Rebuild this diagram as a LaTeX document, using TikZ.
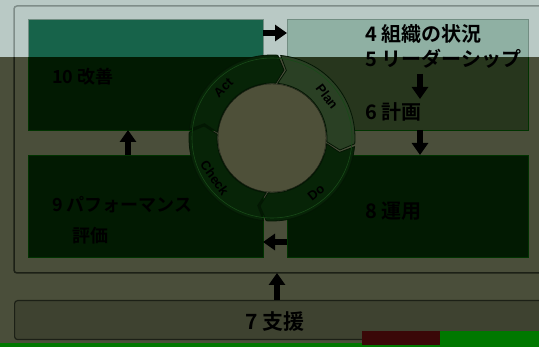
\documentclass[tikz,border=0pt]{standalone}
\usepackage{fontspec}
\newfontfamily\jp{Noto Sans CJK JP}[BoldFont={Noto Sans CJK JP Bold}]
\newfontfamily\lat{Liberation Sans}
\usetikzlibrary{arrows.meta}
\definecolor{dkbg}{HTML}{4A4E3A}
\definecolor{dkframe}{HTML}{1C2016}
\definecolor{dkbox}{HTML}{021A02}
\definecolor{dkboxfour}{HTML}{27361D}
\definecolor{dkplan}{HTML}{2A4024}
\definecolor{dkseg}{HTML}{072407}
\definecolor{dkinner}{HTML}{4E5039}
\definecolor{dkseven}{HTML}{3E4230}
\definecolor{ringline}{HTML}{184A18}
\definecolor{ltbg}{HTML}{B9C9C5}
\definecolor{ltframe}{HTML}{7F8D89}
\definecolor{ltboxten}{HTML}{17634A}
\definecolor{ltboxfour}{HTML}{8FB0A3}
\definecolor{glitchgreen}{HTML}{007800}
\definecolor{glitchred}{HTML}{3A0808}
\tikzset{
  box/.style={rectangle, inner sep=0pt, anchor=north west, draw=boxedge, line width=0.6pt},
  bigarrow/.style={line width=6pt, -{Triangle[width=16pt,length=12pt]}, black},
  jptext/.style={font=\jp\bfseries\fontsize{20pt}{22pt}\selectfont, text=black, anchor=west, inner sep=0pt},
  pdca/.style={font=\lat\bfseries\fontsize{13pt}{14pt}\selectfont, text=black, inner sep=0pt},
  seg/.style={draw=dkseg!60!black, line width=0.8pt}
}
\newcommand\segpath[2]{%
  (#1:83) arc[start angle=#1, end angle=#2, radius=83] -- (#2-6:69) -- (#2:55)
  arc[start angle=#2, end angle=#1, radius=55] -- (#1-6:69) -- cycle}
\newcommand\drawdiagram{%
  \fill[bgc] (0,0) rectangle (539,347);
  \draw[framec, line width=1.5pt, rounded corners=3pt] (14,6) rectangle (560,273);
  \node[box, fill=tenc, minimum width=235pt, minimum height=111pt] (b10) at (28,19) {};
  \node[box, fill=fourc, minimum width=241pt, minimum height=111pt] (b4) at (287,19) {};
  \node[box, fill=dkbox, minimum width=235pt, minimum height=102pt] (b9) at (28,155) {};
  \node[box, fill=dkbox, minimum width=241pt, minimum height=102pt] (b8) at (287,155) {};
  \node[box, fill=dkseven, draw=dkframe, line width=1.2pt, rounded corners=3pt,
        minimum width=546pt, minimum height=39pt] (b7) at (14,300) {};
  \begin{scope}[shift={(272,138)}, yscale=-1]
    \path[seg, fill=dkplan] \segpath{84}{-4};
    \path[seg, fill=dkseg] \segpath{-6}{-94};
    \path[seg, fill=dkseg] \segpath{-96}{-184};
    \path[seg, fill=dkseg] \segpath{174}{86};
    \draw[ringline, line width=0.6pt] (0,0) circle[radius=80];
    \fill[dkinner, draw=black!60!dkinner] (0,0) circle[radius=54];
    \node[pdca, rotate=-53] (plan) at (37:69) {Plan};
    \node[pdca, rotate=39] (do) at (-51:70) {Do};
    \node[pdca, rotate=-55] (check) at (215:70) {Check};
    \node[pdca, rotate=44] (act) at (134:70) {Act};
  \end{scope}
  \node[jptext] (t4) at (365,34) {4 組織の状況};
  \node[jptext] (t5) at (365,59) {5 リーダーシップ};
  \node[jptext] (t6) at (365,112) {6 計画};
  \node[jptext] (t8) at (365,211) {8 運用};
  \node[jptext, font=\jp\bfseries\fontsize{18pt}{20pt}\selectfont] (t10) at (52,77) {10 改善};
  \node[jptext, font=\jp\bfseries\fontsize{18pt}{20pt}\selectfont] (t9) at (52,205) {9 パフォーマンス};
  \node[jptext, font=\jp\bfseries\fontsize{18pt}{20pt}\selectfont] (t9b) at (72,236) {評価};
  \node[jptext, font=\jp\bfseries\fontsize{21pt}{23pt}\selectfont] (t7) at (245,322) {7 支援};
  \coordinate (a1s) at (263,33); \coordinate (a1e) at (287,33);
  \coordinate (a2s) at (420,74); \coordinate (a2e) at (420,99);
  \coordinate (a3s) at (420,130); \coordinate (a3e) at (420,155);
  \coordinate (a4s) at (287,242); \coordinate (a4e) at (263,242);
  \coordinate (a5s) at (128,155); \coordinate (a5e) at (128,130);
  \coordinate (a6s) at (277,300); \coordinate (a6e) at (277,273);
  \draw[bigarrow] (a1s) -- (a1e);
  \draw[bigarrow] (a2s) -- (a2e);
  \draw[bigarrow] (a3s) -- (a3e);
  \draw[bigarrow] (a4s) -- (a4e);
  \draw[bigarrow] (a5s) -- (a5e);
  \draw[bigarrow] (a6s) -- (a6e);
}
\begin{document}
\begin{tikzpicture}[x=1pt, y=-1pt]
\useasboundingbox (0,0) rectangle (539,347);
\begin{scope}
  \colorlet{bgc}{dkbg}\colorlet{framec}{dkframe}\colorlet{tenc}{dkbox}
  \colorlet{fourc}{dkboxfour}\colorlet{boxedge}{black!80!green}
  \drawdiagram
\end{scope}
\begin{scope}
  \clip (0,0) rectangle (539,57);
  \colorlet{bgc}{ltbg}\colorlet{framec}{ltframe}\colorlet{tenc}{ltboxten}
  \colorlet{fourc}{ltboxfour}\colorlet{boxedge}{ltboxfour!80!black}
  \drawdiagram
\end{scope}
\fill[glitchgreen] (0,343) rectangle (539,347);
\fill[glitchgreen] (440,331) rectangle (539,347);
\fill[glitchred] (362,331) rectangle (440,345);
\end{tikzpicture}
\end{document}
